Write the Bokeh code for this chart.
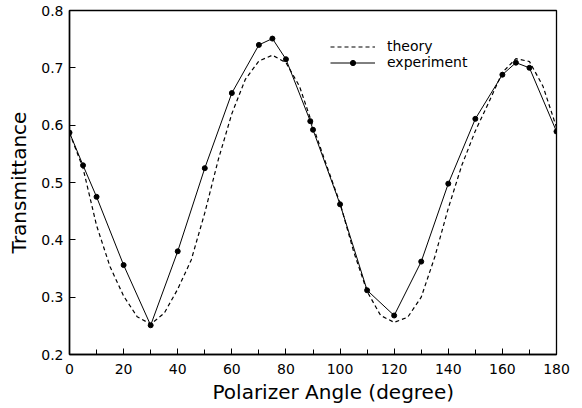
from bokeh.plotting import figure
from bokeh.models import Legend, LegendItem, FixedTicker, Title
from bokeh.embed import file_html
from bokeh.resources import INLINE

# theory curve
theory_angle = [0, 5, 10, 15, 20, 25, 30, 35, 40, 45, 50, 55, 60, 65, 70, 75, 80, 85, 90,
                95, 100, 105, 110, 115, 120, 125, 130, 135, 140, 145, 150, 155, 160, 165, 170, 175, 180]
theory_T = [0.587, 0.525, 0.425, 0.353, 0.302, 0.266, 0.253, 0.272, 0.314, 0.365, 0.447, 0.540,
            0.620, 0.680, 0.712, 0.722, 0.709, 0.668, 0.598, 0.530, 0.464, 0.380, 0.310, 0.268,
            0.256, 0.265, 0.300, 0.370, 0.455, 0.530, 0.590, 0.640, 0.692, 0.716, 0.711, 0.668, 0.596]

# experiment (dots)
exp_angle = [0, 5, 10, 20, 30, 40, 50, 60, 70, 75, 80, 89, 90, 100, 110, 120, 130, 140, 150, 160, 165, 170, 180]
exp_T = [0.587, 0.530, 0.475, 0.356, 0.251, 0.380, 0.525, 0.656, 0.740, 0.751, 0.715, 0.607, 0.592,
         0.462, 0.312, 0.268, 0.362, 0.498, 0.611, 0.688, 0.709, 0.700, 0.589]

x_ticks = [0, 20, 40, 60, 80, 100, 120, 140, 160, 180]
x_minor = [0, 10, 20, 30, 40, 50, 60, 70, 80, 90, 100, 110, 120, 130, 140, 150, 160, 170, 180]
y_ticks = [0.2, 0.3, 0.4, 0.5, 0.6, 0.7, 0.8]

FONT = "DejaVu Sans"

p = figure(width=574, height=406, output_backend="svg", toolbar_location=None,
           x_range=(0, 180), y_range=(0.2, 0.8),
           min_border_left=69, min_border_right=18, min_border_top=10, min_border_bottom=52)
p.xgrid.visible = False
p.ygrid.visible = False
p.outline_line_color = "black"
p.outline_line_width = 1.3
p.background_fill_color = "white"
p.border_fill_color = "white"

for ax in (p.xaxis[0], p.yaxis[0]):
    ax.axis_line_width = 1.5
    ax.axis_line_color = "black"
    ax.major_tick_in = 6
    ax.major_tick_out = 0
    ax.minor_tick_in = 5
    ax.minor_tick_out = 0
    ax.major_tick_line_color = "black"
    ax.minor_tick_line_color = "black"
    ax.major_label_text_font = FONT
    ax.major_label_text_font_size = "14px"
    ax.major_label_text_color = "black"
    ax.axis_label_text_font = FONT
    ax.axis_label_text_font_size = "20px"
    ax.axis_label_text_font_style = "normal"
    ax.axis_label_text_color = "#000000"

p.xaxis.ticker = FixedTicker(ticks=x_ticks, minor_ticks=x_minor)
p.yaxis.ticker = FixedTicker(ticks=y_ticks)
p.yaxis.axis_label = "Transmittance"
p.xaxis.major_label_standoff = 9
p.yaxis.major_label_standoff = 6
p.yaxis.axis_label_standoff = 7

x_title = Title(text="Polarizer Angle (degree)", align="left", offset=143, standoff=2,
                text_font=FONT, text_font_size="20px", text_font_style="normal",
                text_color="#000000")
p.add_layout(x_title, "below")

r_theory = p.line(theory_angle, theory_T, line_color="black", line_width=1.2, line_dash="4 3")
r_exp_line = p.line(exp_angle, exp_T, line_color="black", line_width=1.0)
r_exp_pts = p.scatter(exp_angle, exp_T, size=5, fill_color="black", line_color="black")

legend = Legend(items=[LegendItem(label="theory", renderers=[r_theory]),
                       LegendItem(label="experiment", renderers=[r_exp_line, r_exp_pts])],
                location=(261, 284), orientation="vertical",
                glyph_width=45, glyph_height=13, label_height=13, spacing=0,
                label_standoff=12, padding=0, margin=0,
                border_line_color=None, background_fill_alpha=0,
                label_text_font=FONT, label_text_font_size="14px", label_text_color="black")
p.add_layout(legend)

open("out.html", "w").write(file_html(p, INLINE))
